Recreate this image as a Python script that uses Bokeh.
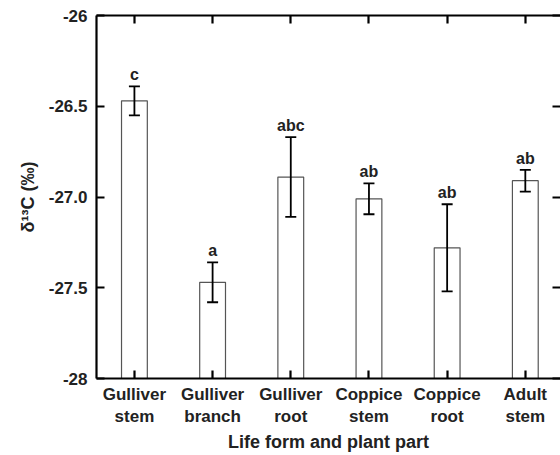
from bokeh.plotting import figure
from bokeh.models import (ColumnDataSource, FixedTicker, Whisker, TeeHead, LinearAxis, Range1d)
from bokeh.embed import file_html
from bokeh.resources import INLINE
from bokeh.core.properties import value

categories = ["Gulliver\nstem", "Gulliver\nbranch", "Gulliver\nroot", "Coppice\nstem", "Coppice\nroot", "Adult\nstem"]
means = [-26.47, -27.47, -26.89, -27.01, -27.28, -26.91]
errors = [0.08, 0.11, 0.22, 0.085, 0.24, 0.06]
letters = ["c", "a", "abc", "ab", "ab", "ab"]
y_ticks = [-28, -27.5, -27.0, -26.5, -26]
y_tick_labels = ["-28", "-27.5", "-27.0", "-26.5", "-26"]
baseline = -28

xs = list(range(1, len(categories) + 1))
src = ColumnDataSource(dict(
    x=xs, top=means,
    upper=[m + e for m, e in zip(means, errors)],
    lower=[m - e for m, e in zip(means, errors)],
    lab=letters,
))

FONT = "Liberation Sans"

p = figure(width=560, height=455, output_backend="svg", toolbar_location=None,
           x_range=Range1d(0.515, 6.45), y_range=Range1d(-28, -26),
           min_border_left=96, min_border_top=15, min_border_bottom=74, min_border_right=0,
           x_axis_location=None, y_axis_location=None)
p.outline_line_color = None
p.xgrid.visible = False
p.ygrid.visible = False
p.background_fill_color = "white"
p.border_fill_color = "white"

p.vbar(x="x", top="top", bottom=baseline, width=0.33, source=src,
       fill_color="white", line_color="#555555", line_width=1.2)

w = Whisker(base="x", upper="upper", lower="lower", source=src,
            line_color="black", line_width=1.8, level="overlay",
            upper_head=TeeHead(size=11, line_color="black", line_width=1.8),
            lower_head=TeeHead(size=11, line_color="black", line_width=1.8))
p.add_layout(w)

p.text(x="x", y="upper", text="lab", source=src, y_offset=-3,
       text_align="center", text_baseline="bottom",
       text_font=value(FONT), text_font_style="bold", text_font_size="16px",
       text_color="#222222")

def style_axis(ax, show_labels, ticks):
    ax.axis_line_width = 2.2
    ax.axis_line_color = "black"
    ax.major_tick_line_width = 2.2
    ax.major_tick_line_color = "black"
    ax.major_tick_in = 8
    ax.major_tick_out = 0
    ax.minor_tick_line_color = None
    ax.major_label_text_font = FONT
    ax.major_label_text_font_style = "bold"
    ax.major_label_text_color = "#222222"
    if not show_labels:
        ax.major_label_overrides = {t: "" for t in ticks}
        ax.major_label_standoff = 0

# bottom axis
xb = LinearAxis(ticker=FixedTicker(ticks=xs))
style_axis(xb, True, xs)
xb.major_label_overrides = {x: c for x, c in zip(xs, categories)}
xb.major_label_text_font_size = "17px"
xb.major_label_standoff = 6
xb.axis_label = "Life form and plant part"
xb.axis_label_text_font = FONT
xb.axis_label_text_font_style = "bold"
xb.axis_label_text_font_size = "18px"
xb.axis_label_text_color = "#222222"
xb.axis_label_standoff = 3
p.add_layout(xb, "below")

# top axis
xt = LinearAxis(ticker=FixedTicker(ticks=xs))
style_axis(xt, False, xs)
p.add_layout(xt, "above")

# left axis
yl = LinearAxis(ticker=FixedTicker(ticks=y_ticks))
style_axis(yl, True, y_ticks)
yl.major_label_overrides = {t: l for t, l in zip(y_ticks, y_tick_labels)}
yl.major_label_text_font_size = "17px"
yl.major_label_standoff = 9
yl.axis_label = "δ¹³C (‰)"
yl.axis_label_text_font = FONT
yl.axis_label_text_font_style = "bold"
yl.axis_label_text_font_size = "18px"
yl.axis_label_text_color = "#222222"
yl.axis_label_standoff = 8
p.add_layout(yl, "left")

# right axis (spine off-screen)
yr = LinearAxis(ticker=FixedTicker(ticks=y_ticks))
style_axis(yr, False, y_ticks)
yr.axis_line_color = None
p.add_layout(yr, "right")

open("out.html", "w").write(file_html(p, INLINE))
